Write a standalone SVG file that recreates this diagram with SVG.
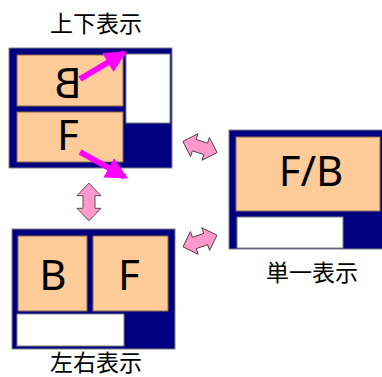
<svg xmlns="http://www.w3.org/2000/svg" width="382" height="377" viewBox="0 0 382 377">
<style>
.frame{fill:#000080;stroke:#808080;stroke-width:1}
.panel{fill:#FFCC99;stroke:#8B6B4A;stroke-width:1}
.blank{fill:#FFFFFF;stroke:#808080;stroke-width:1}
.big{font-family:"Noto Sans","DejaVu Sans",sans-serif;font-size:42px;fill:#000;text-anchor:middle}
.lbl{font-family:"Noto Sans CJK JP","Noto Sans",sans-serif;font-size:23px;fill:#000;text-anchor:middle}
.dbl{fill:#FF99CC;stroke:#333;stroke-width:0.8}
.mag{stroke:#FF00FF;stroke-width:6;fill:none}
</style>
<defs>
<polygon id="darrow" points="-18,0 -6,-12 -6,-6 6,-6 6,-12 18,0 6,12 6,6 -6,6 -6,12"/>
<marker id="mh" markerUnits="userSpaceOnUse" markerWidth="22" markerHeight="22" refX="17" refY="10" orient="auto" viewBox="0 0 20 20">
<polygon points="0,0 20,10 0,20" fill="#FF00FF"/>
</marker>
</defs>
<g id="node-updown">
<rect class="frame" x="9" y="48" width="163" height="120"/>
<rect class="panel" x="17" y="55" width="106" height="51"/>
<rect class="panel" x="17" y="112" width="106" height="50"/>
<rect class="blank" x="126" y="54" width="44" height="69"/>
<text class="big" transform="translate(68,98) scale(-1,1)" x="0" y="0">B</text>
<text class="big" x="68" y="150">F</text>
<text class="lbl" x="96" y="32">上下表示</text>
</g>
<g id="node-leftright">
<rect class="frame" x="12" y="229" width="163" height="120"/>
<rect class="panel" x="18" y="236" width="69" height="75"/>
<rect class="panel" x="93" y="236" width="75" height="75"/>
<rect class="blank" x="17" y="314" width="107" height="32"/>
<text class="big" x="53" y="290">B</text>
<text class="big" x="129" y="290">F</text>
<text class="lbl" x="96" y="371">左右表示</text>
</g>
<g id="node-single">
<rect class="frame" x="229" y="130" width="160" height="119"/>
<rect class="panel" x="236" y="137" width="144" height="74"/>
<rect class="blank" x="237" y="217" width="106" height="31"/>
<text class="big" x="311" y="186">F/B</text>
<text class="lbl" x="312" y="281">単一表示</text>
</g>
<g id="connectors">
<use href="#darrow" class="dbl" transform="translate(89,202) rotate(90) scale(1.05,1)"/>
<use href="#darrow" class="dbl" transform="translate(200,147) rotate(18)"/>
<use href="#darrow" class="dbl" transform="translate(200,241) rotate(-19)"/>
<line class="mag" x1="80" y1="79" x2="124" y2="53" marker-end="url(#mh)"/>
<line class="mag" x1="80" y1="152" x2="125" y2="177" marker-end="url(#mh)"/>
</g>
</svg>
